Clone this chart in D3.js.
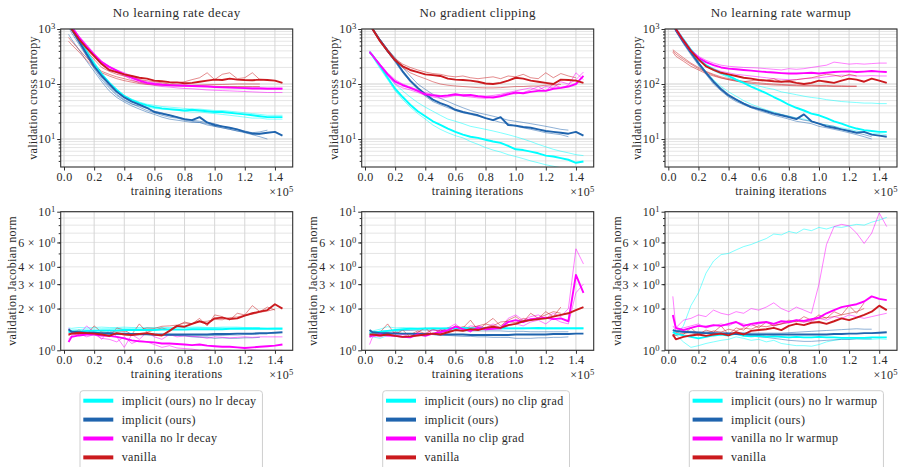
<!DOCTYPE html>
<html><head><meta charset="utf-8">
<script src="https://cdn.jsdelivr.net/npm/d3@7"></script>
<style>
body{margin:0;background:#fff;}
</style></head><body>
<svg id="c" width="898" height="467"></svg>
<script>
// ---------------- DATA ----------------
const X = [0.03,0.05,0.10,0.15,0.20,0.25,0.30,0.35,0.40,0.45,0.50,0.55,0.60,0.65,0.70,0.75,0.80,0.85,0.90,0.95,1.00,1.05,1.10,1.15,1.20,1.25,1.30,1.35,1.40,1.45];
const xTicks = [0.0,0.2,0.4,0.6,0.8,1.0,1.2,1.4];
const ceTicks = [10,100,1000];
const ceTickText = [["10","1"],["10","2"],["10","3"]];
const jacTicks = [1,2,3,4,6,10];
const jacTickText = [["10","0"],["2 × 10","0"],["3 × 10","0"],["4 × 10","0"],["6 × 10","0"],["10","1"]];
const titles = ["No learning rate decay","No gradient clipping","No learning rate warmup"];
const legendLabels = [
  ["implicit (ours) no lr decay","implicit (ours)","vanilla no lr decay","vanilla"],
  ["implicit (ours) no clip grad","implicit (ours)","vanilla no clip grad","vanilla"],
  ["implicit (ours) no lr warmup","implicit (ours)","vanilla no lr warmup","vanilla"]
];

// --- cross entropy, no lr decay ---
const ceDecay_implicitVariant = [1500,1100,640,380,230,150,105,78,60,51,45,41,38,36,35,34,33,34,33,32,31,31,30,29,28,27,26,25,25,25];
const ceDecay_implicitVariantRuns = [
  [1400,1100,680,400,240,155,110,80,62,53,47,43,41,39,38,37,36,35,35,34,33,33,32,31,30,29,28,27,27,27],
  [1500,1150,700,420,250,160,108,76,58,48,42,38,36,35,34,33,32,31,31,30,29,28,27,26,25,24,24,23,23,23]];
const ceDecay_implicit = [1300,1000,600,350,210,140,100,72,57,48,42,37,31,29,27,25,23,22,25,20,18,17,16,15,13.5,12.5,12.5,13,13.5,11.5];
const ceDecay_implicitRuns = [
  [800,650,420,260,170,110,75,57,47,40,35,31,28,25,23,22,21,20,20,19,17,16,15,14,13,12,11,10],
  [1100,850,520,320,200,130,90,65,52,44,38,33,30,27,25,24,22,21,20,18,17,16,15,14,13.5,13,13.5,14.5],
  [1200,950,560,330,190,120,85,62,50,43,40,36,32,30,27,25,23,22,21,20,19,17,16,15,14,13,12]];
const ceDecay_vanillaVariant = [1500,1100,700,480,340,250,205,175,150,130,115,105,100,97,95,94,93,92,91,90,88,87,86,85,84,83,83,82,82,82];
const ceDecay_vanillaVariantRuns = [
  [1500,1100,720,500,350,250,190,160,140,120,105,100,95,90,88,85,83,82,80,78,77,76,75,74,73,72,71,70,70,70],
  [1500,1150,740,520,360,260,210,180,160,140,120,110,105,100,98,96,95,94,93,92,90,89,88,87,86,85,85,84,84,84]];
const ceDecay_vanilla = [1400,1000,650,450,320,230,180,165,150,140,130,125,115,112,108,107,103,105,110,115,120,118,125,120,118,117,120,118,115,105];
const ceDecay_vanillaRuns = [
  [1300,950,600,400,280,200,170,150,140,130,120,115,110,105,100,105,110,120,130,160,120,150,160,125,130,160,120],
  [600,520,380,270,200,160,140,125,115,108,102,98,96,95,94,93,92,92,92,91,91,90,90,90,90,90,90],
  [700,600,420,300,220,170,150,135,125,115,108,103,100,98,97,96,95,95,96,97,98,98,99,100,100,100,100]];

// --- cross entropy, no gradient clipping ---
const ceClip_implicitVariant = [380,330,210,130,82,58,42,32,26,21,18,15.5,13.5,12,11,10.5,9.7,9,8.5,7.5,6.5,6.3,5.9,5.5,5,4.8,4.5,4.2,3.7,3.9];
const ceClip_implicitVariantRuns = [
  [400,340,230,150,100,75,58,46,38,32,27,23,21,19,17,16,15,14,13,12,11,10,9,8,7.2,6.5,6,5.6,5.2,5],
  [380,310,190,120,75,52,38,29,23,18,15,13,11.5,10.5,9,8,7,6.3,5.8,5.2,4.8,4.4,4,3.7,3.4,3.2,3.0]];
const ceClip_implicit = [1400,1000,620,400,270,170,115,85,65,52,45,40,34,31,29,27,24,22,25,18,17.5,16.5,16,15,14,13.5,13,12.5,13.5,11.5];
const ceClip_implicitRuns = [
  [1300,1000,650,430,300,200,140,100,80,65,55,48,42,37,33,30,28,26,24,22,21,20,19,18,17,16,15,14.5],
  [1350,1000,600,380,250,160,110,80,60,48,42,37,33,30,28,26,24,22,20,19,17,16,15,14,13,12.5,12,11]];
const ceClip_vanillaVariant = [380,330,220,150,110,95,85,75,65,62,60,62,65,62,63,60,58,57,60,65,70,68,72,75,75,82,85,90,100,140];
const ceClip_vanillaVariantRuns = [
  [400,340,230,160,120,100,88,78,70,65,62,60,63,60,58,56,55,58,62,68,66,70,78,90,75,100,85,95,160,120],
  [390,320,210,140,100,85,78,70,62,58,55,58,62,65,62,60,60,62,65,70,75,80,85,78,90,85,110,100,120,165]];
const ceClip_vanilla = [1400,1000,600,400,270,210,180,165,150,145,140,125,120,118,115,110,102,100,105,115,130,125,115,110,105,100,120,118,115,105];
const ceClip_vanillaRuns = [
  [1400,1050,650,420,290,230,200,180,165,155,150,140,135,140,130,125,130,135,125,140,135,150,130,125,160,130,155,140,130],
  [1300,950,580,380,260,200,160,140,125,110,100,95,92,90,88,86,85,85,86,88,90,90,92,92,95,96,98]];

// --- cross entropy, no lr warmup ---
const ceWarm_implicitVariant = [1400,1000,650,420,290,220,185,160,140,120,105,90,78,68,58,50,42,37,33,29,27,24,21,19,17,15.5,14.5,14,13.5,13.5];
const ceWarm_implicitVariantRuns = [
  [1400,1000,640,410,280,210,175,150,130,115,105,100,92,85,80,72,68,64,60,57,55,52,50,48,47,46,45,45,44,44],
  [1300,950,600,380,250,170,120,90,72,60,50,43,38,34,31,28,26,24,23,21,19,18,17,16,15,14,13,12.5,12.5,12]];
const ceWarm_implicit = [1300,950,580,370,240,160,110,80,62,52,44,38,35,32,29,27,25,23,28,21,19,17,16,15,14,13,13.5,12,11.5,11];
const ceWarm_implicitRuns = [
  [1200,900,540,340,220,150,100,75,58,48,42,37,33,30,27,25,23,21,20,19,17,16,15,14,13,12,11,10],
  [1300,950,600,380,250,165,115,85,65,53,45,40,36,33,30,28,26,24,22,21,19,18,17,15,14,13,12,11]];
const ceWarm_vanillaVariant = [1400,1000,620,400,300,250,220,200,190,185,180,175,170,165,162,158,155,155,158,160,155,160,165,168,170,165,168,172,168,165];
const ceWarm_vanillaVariantRuns = [
  [1500,1050,650,430,320,270,240,220,210,205,200,198,195,190,185,180,190,185,190,200,210,220,250,240,230,235,230,235,240,240],
  [1400,1000,620,400,280,220,190,170,160,150,145,140,135,130,125,122,120,120,125,128,130,135,140,145,142,140,140,142,140,140]];
const ceWarm_vanilla = [1400,1000,620,400,280,210,180,160,150,140,130,125,118,115,112,110,112,105,100,105,115,110,105,115,125,120,110,125,115,105];
const ceWarm_vanillaRuns = [
  [420,380,300,240,200,170,150,135,125,118,112,108,105,102,100,98,97,96,95,95,94,94,93,93,92,92],
  [400,350,280,230,190,165,145,130,120,112,107,103,100,98,96,95,94,93,92,92,91,91,90,90,90,90],
  [380,320,260,210,180,155,140,128,120,115,110,115,120,118,125,110,115,120,125,130,140,150,145,135,150,140]];

// --- Jacobian norm, no lr decay ---
const jacDecay_implicitVariant = [1.36,1.37,1.37,1.38,1.38,1.39,1.39,1.39,1.40,1.40,1.40,1.40,1.40,1.41,1.41,1.41,1.41,1.42,1.42,1.42,1.42,1.42,1.43,1.43,1.43,1.43,1.43,1.43,1.43,1.43];
const jacDecay_implicitVariantRuns = [
  [1.45,1.44,1.46,1.45,1.46,1.47,1.46,1.46,1.47,1.46,1.45,1.45,1.45,1.45,1.46,1.46,1.46,1.47,1.47,1.46,1.46,1.47,1.47,1.47,1.46,1.46,1.46],
  [1.38,1.40,1.41,1.42,1.42,1.43,1.43,1.44,1.44,1.44,1.45,1.45,1.45,1.45,1.44,1.45,1.45,1.45,1.46,1.45,1.45,1.45,1.44,1.45,1.45,1.45,1.45,1.44,1.45,1.45]];
const jacDecay_implicit = [1.42,1.36,1.35,1.34,1.34,1.33,1.33,1.32,1.32,1.31,1.31,1.31,1.30,1.30,1.30,1.30,1.30,1.30,1.30,1.30,1.31,1.31,1.31,1.32,1.32,1.32,1.33,1.33,1.34,1.35];
const jacDecay_implicitRuns = [
  [1.40,1.38,1.36,1.35,1.33,1.32,1.30,1.30,1.30,1.29,1.30,1.30,1.29,1.29,1.28,1.28,1.27,1.25,1.24,1.24,1.22,1.23,1.22,1.22,1.23,1.23,1.24],
  [1.35,1.33,1.32,1.32,1.31,1.31,1.30,1.30,1.30,1.30,1.29,1.29,1.29,1.28,1.28,1.28,1.28,1.27,1.27,1.27,1.28,1.28,1.29,1.29,1.30,1.30,1.31,1.31]];
const jacDecay_vanillaVariant = [1.15,1.25,1.28,1.30,1.30,1.28,1.27,1.25,1.22,1.18,1.16,1.15,1.14,1.12,1.12,1.11,1.10,1.09,1.10,1.08,1.07,1.06,1.06,1.05,1.04,1.05,1.06,1.07,1.08,1.10];
const jacDecay_vanillaVariantRuns = [
  [1.45,1.35,1.30,1.50,1.35,1.20,1.40,1.25,1.05,1.30,1.20,1.35,1.25,1.20,1.30,1.25,1.27,1.26,1.25,1.22,1.25,1.24,1.23,1.24,1.25,1.24,1.25,1.25,1.25,1.25],
  [1.20,1.28,1.32,1.25,1.30,1.22,1.20,1.15,1.25,1.12,1.18,1.15,1.10,1.05,1.08,1.04,1.03,1.02,1.00,1.01,0.99,1.00,1.00,0.99,1.00,1.01,1.00,1.00,1.00,1.00]];
const jacDecay_vanilla = [1.30,1.32,1.34,1.33,1.32,1.30,1.27,1.33,1.30,1.29,1.31,1.33,1.30,1.28,1.38,1.50,1.48,1.55,1.62,1.55,1.70,1.72,1.68,1.70,1.78,1.85,1.90,1.95,2.15,2.00];
const jacDecay_vanillaRuns = [
  [1.30,1.35,1.40,1.30,1.50,1.35,1.25,1.45,1.40,1.30,1.55,1.35,1.40,1.45,1.40,1.50,1.60,1.55,1.70,1.50,1.80,1.75,1.65,1.85,1.80,2.10,1.90,2.05,1.95],
  [1.28,1.31,1.30,1.33,1.32,1.36,1.34,1.38,1.37,1.41,1.40,1.45,1.44,1.49,1.50,1.52,1.57,1.56,1.61,1.62,1.67,1.66,1.72,1.74,1.79,1.82,1.88,1.92,1.98]];

// --- Jacobian norm, no gradient clipping ---
const jacClip_implicitVariant = [1.32,1.34,1.36,1.38,1.40,1.42,1.43,1.43,1.44,1.44,1.44,1.44,1.44,1.45,1.44,1.44,1.44,1.44,1.45,1.44,1.44,1.44,1.44,1.45,1.44,1.44,1.44,1.44,1.44,1.44];
const jacClip_implicitVariantRuns = [
  [1.35,1.38,1.42,1.48,1.45,1.46,1.45,1.44,1.44,1.45,1.44,1.45,1.46,1.45,1.45,1.45,1.46,1.46,1.45,1.45,1.45,1.45,1.46,1.46,1.46,1.46,1.46,1.46,1.46,1.46],
  [1.30,1.25,1.22,1.28,1.35,1.40,1.42,1.43,1.42,1.43,1.43,1.43,1.42,1.43,1.43,1.43,1.44,1.43,1.43,1.43,1.43,1.43,1.44,1.43,1.43,1.43,1.43,1.43,1.43,1.43]];
const jacClip_implicit = [1.40,1.35,1.33,1.33,1.32,1.32,1.32,1.31,1.31,1.31,1.30,1.30,1.30,1.30,1.29,1.29,1.29,1.29,1.29,1.29,1.30,1.30,1.30,1.30,1.30,1.31,1.31,1.31,1.32,1.32];
const jacClip_implicitRuns = [
  [1.38,1.36,1.35,1.34,1.33,1.32,1.32,1.31,1.31,1.30,1.29,1.28,1.27,1.26,1.26,1.25,1.25,1.24,1.24,1.24,1.22,1.22,1.22,1.23,1.23,1.24,1.24,1.25],
  [1.35,1.36,1.37,1.38,1.38,1.39,1.39,1.40,1.40,1.40,1.40,1.39,1.39,1.38,1.38,1.38,1.38,1.38,1.38,1.37,1.37,1.37,1.36,1.36,1.36,1.36,1.36,1.36]];
const jacClip_vanillaVariant = [1.25,1.28,1.30,1.28,1.27,1.25,1.24,1.30,1.27,1.32,1.35,1.40,1.48,1.42,1.38,1.45,1.42,1.43,1.45,1.60,1.65,1.60,1.68,1.70,1.72,1.68,1.70,1.62,3.50,2.60];
const jacClip_vanillaVariantRuns = [
  [1.10,1.25,1.30,1.35,1.28,1.30,1.25,1.35,1.30,1.40,1.38,1.45,1.55,1.40,1.50,1.48,1.45,1.55,1.45,1.70,1.80,1.65,1.75,1.80,1.70,1.85,1.75,2.00,5.40,4.20],
  [1.30,1.28,1.25,1.30,1.35,1.30,1.32,1.28,1.33,1.30,1.42,1.35,1.40,1.45,1.35,1.50,1.45,1.45,1.42,1.50,1.55,1.50,1.60,1.65,1.55,1.70,1.60,1.55,2.60,3.00]];
const jacClip_vanilla = [1.30,1.30,1.28,1.30,1.27,1.25,1.26,1.28,1.30,1.32,1.30,1.35,1.40,1.38,1.42,1.40,1.45,1.48,1.45,1.52,1.55,1.62,1.65,1.68,1.70,1.75,1.80,1.85,1.95,2.05];
const jacClip_vanillaRuns = [
  [1.25,1.30,1.35,1.55,1.30,1.40,1.25,1.35,1.45,1.30,1.40,1.35,1.50,1.45,1.65,1.40,1.55,1.70,1.50,1.65,1.75,1.60,1.85,1.70,1.90,1.75,2.05],
  [1.28,1.32,1.30,1.28,1.35,1.32,1.30,1.38,1.32,1.42,1.36,1.45,1.42,1.48,1.45,1.50,1.55,1.50,1.60,1.62,1.58,1.70,1.65,1.72,1.80,1.90,1.85]];

// --- Jacobian norm, no lr warmup ---
const jacWarm_implicitVariant = [1.35,1.32,1.28,1.25,1.22,1.25,1.28,1.30,1.28,1.32,1.27,1.26,1.27,1.25,1.26,1.25,1.24,1.25,1.24,1.24,1.25,1.24,1.24,1.23,1.23,1.23,1.23,1.24,1.24,1.24];
const jacWarm_implicitVariantRuns = [
  [1.30,1.28,1.50,2.10,2.60,3.60,4.40,4.90,5.00,5.30,5.60,5.80,6.10,6.40,6.90,6.80,7.20,7.00,7.50,7.30,7.70,7.50,7.80,7.70,7.90,8.10,8.00,8.40,8.70,9.10],
  [1.35,1.30,1.15,1.05,1.08,1.12,1.15,1.18,1.20,1.25,1.22,1.18,1.20,1.15,1.18,1.12,1.10,1.08,1.08,1.07,1.10,1.15,1.18,1.20,1.20,1.21,1.20,1.20,1.21,1.20]];
const jacWarm_implicit = [1.40,1.38,1.36,1.35,1.34,1.33,1.33,1.32,1.32,1.31,1.31,1.30,1.30,1.30,1.30,1.30,1.30,1.30,1.30,1.30,1.30,1.30,1.31,1.31,1.32,1.32,1.33,1.33,1.34,1.35];
const jacWarm_implicitRuns = [
  [1.40,1.38,1.38,1.37,1.36,1.36,1.35,1.35,1.34,1.34,1.34,1.33,1.33,1.33,1.33,1.33,1.34,1.35,1.36,1.37,1.38,1.39,1.40,1.41,1.42,1.43,1.42,1.42],
  [1.38,1.36,1.35,1.35,1.34,1.33,1.32,1.32,1.31,1.30,1.28,1.27,1.25,1.24,1.22,1.20,1.18,1.17,1.16,1.16,1.17,1.18,1.19,1.20,1.20,1.21,1.21,1.21]];
const jacWarm_vanillaVariant = [1.80,1.45,1.40,1.45,1.50,1.48,1.52,1.50,1.55,1.60,1.50,1.55,1.58,1.60,1.55,1.62,1.60,1.65,1.63,1.68,1.72,1.85,1.95,2.05,2.10,2.15,2.25,2.45,2.35,2.30];
const jacWarm_vanillaVariantRuns = [
  [2.45,1.45,1.65,1.70,1.80,1.75,1.95,1.85,1.80,1.90,1.85,2.00,1.95,2.05,2.20,2.00,1.90,2.05,1.95,1.85,3.00,5.80,7.80,8.10,7.90,7.00,5.90,7.00,9.80,7.80],
  [1.50,1.40,1.45,1.50,1.55,1.45,1.50,1.55,1.50,1.60,1.55,1.50,1.55,1.60,1.50,1.55,1.60,1.65,1.60,1.62,1.70,1.65,1.75,1.70,1.80,1.75,1.70,1.75,1.80,1.85]];
const jacWarm_vanilla = [1.30,1.20,1.25,1.28,1.30,1.27,1.30,1.32,1.28,1.35,1.30,1.38,1.40,1.42,1.45,1.40,1.50,1.55,1.52,1.58,1.60,1.55,1.62,1.70,1.65,1.72,1.80,1.90,2.10,1.95];
const jacWarm_vanillaRuns = [
  [1.25,1.35,1.30,1.45,1.30,1.40,1.35,1.50,1.30,1.45,1.40,1.55,1.45,1.60,1.50,1.55,1.65,1.60,1.75,1.65,1.80,1.70,1.90,1.80,2.10,1.85,2.20],
  [1.30,1.28,1.32,1.35,1.30,1.32,1.38,1.35,1.42,1.38,1.45,1.42,1.50,1.48,1.52,1.55,1.58,1.62,1.60,1.65,1.70,1.72,1.75,1.80,1.85,1.90,2.00]];

// ---------------- STYLE / LAYOUT ----------------
const FONT = "'Liberation Serif', 'DejaVu Serif', serif";
const COLORS = ["#00ffff","#1f64ae","#ff00ff","#cb1a1e"];
const W = 232;
const LEFTS = [60.7, 361.7, 665];
const ROWS = [{top:29, h:138}, {top:211.7, h:138.6}];
const X_DOMAIN = [-0.022, 1.518];
const LEGEND_LEFT = [80, 382.7, 689.3];
const LEGEND_TOP = 390.7;

const panels = [
  {col:0,row:0,series:[[ceDecay_implicitVariant,ceDecay_implicitVariantRuns],[ceDecay_implicit,ceDecay_implicitRuns],[ceDecay_vanillaVariant,ceDecay_vanillaVariantRuns],[ceDecay_vanilla,ceDecay_vanillaRuns]]},
  {col:1,row:0,series:[[ceClip_implicitVariant,ceClip_implicitVariantRuns],[ceClip_implicit,ceClip_implicitRuns],[ceClip_vanillaVariant,ceClip_vanillaVariantRuns],[ceClip_vanilla,ceClip_vanillaRuns]]},
  {col:2,row:0,series:[[ceWarm_implicitVariant,ceWarm_implicitVariantRuns],[ceWarm_implicit,ceWarm_implicitRuns],[ceWarm_vanillaVariant,ceWarm_vanillaVariantRuns],[ceWarm_vanilla,ceWarm_vanillaRuns]]},
  {col:0,row:1,series:[[jacDecay_implicitVariant,jacDecay_implicitVariantRuns],[jacDecay_implicit,jacDecay_implicitRuns],[jacDecay_vanillaVariant,jacDecay_vanillaVariantRuns],[jacDecay_vanilla,jacDecay_vanillaRuns]]},
  {col:1,row:1,series:[[jacClip_implicitVariant,jacClip_implicitVariantRuns],[jacClip_implicit,jacClip_implicitRuns],[jacClip_vanillaVariant,jacClip_vanillaVariantRuns],[jacClip_vanilla,jacClip_vanillaRuns]]},
  {col:2,row:1,series:[[jacWarm_implicitVariant,jacWarm_implicitVariantRuns],[jacWarm_implicit,jacWarm_implicitRuns],[jacWarm_vanillaVariant,jacWarm_vanillaVariantRuns],[jacWarm_vanilla,jacWarm_vanillaRuns]]}
];

const svg = d3.select("#c");
svg.append("rect").attr("width",898).attr("height",467).attr("fill","#fff");

function styleText(sel, size, ls){
  return sel.style("font-family", FONT).style("font-size", size + "px")
    .style("letter-spacing", (ls == null ? 0.35 : ls) + "px").style("fill", "#2a2a2a");
}
function sup(sel, base, exp){
  sel.text(null);
  sel.append("tspan").text(base);
  sel.append("tspan").attr("dy","-0.45em").style("font-size","0.72em").text(exp);
}

panels.forEach((p, pi) => {
  const left = LEFTS[p.col], R = ROWS[p.row], H = R.h;
  const g = svg.append("g").attr("transform", `translate(${left},${R.top})`);
  const x = d3.scaleLinear().domain(X_DOMAIN).range([0, W]);
  const isCE = p.row === 0;
  const y = d3.scaleLog().domain(isCE ? [3.1, 1000] : [1, 10]).range([H, 0]);
  const majors = isCE ? ceTicks : jacTicks;
  const majorText = isCE ? ceTickText : jacTickText;
  const minors = [];
  const decades = isCE ? [1, 10, 100] : [1];
  decades.forEach(d => { for (let m = 2; m <= 9; m++) { const v = m * d; if (v >= y.domain()[0] && v <= y.domain()[1]) minors.push(v); } });

  // grid
  const grid = g.append("g");
  grid.selectAll("line.hm").data(minors).join("line")
    .attr("x1",0).attr("x2",W).attr("y1",d=>y(d)).attr("y2",d=>y(d))
    .attr("stroke","#e2e2e2").attr("stroke-width",0.9);
  grid.selectAll("line.hM").data(isCE ? ceTicks : [1,10]).join("line")
    .attr("x1",0).attr("x2",W).attr("y1",d=>y(d)).attr("y2",d=>y(d))
    .attr("stroke","#d0d0d0").attr("stroke-width",1);
  grid.selectAll("line.v").data(xTicks).join("line")
    .attr("x1",d=>x(d)).attr("x2",d=>x(d)).attr("y1",0).attr("y2",H)
    .attr("stroke","#d6d6d6").attr("stroke-width",1);

  // clip
  const cid = "clip" + pi;
  g.append("clipPath").attr("id", cid).append("rect").attr("width", W).attr("height", H);
  const lg = g.append("g").attr("clip-path", `url(#${cid})`);
  const line = d3.line().x((d,i)=>x(X[i])).y(d=>y(Math.max(d,0.5)));

  p.series.forEach((s, si) => {
    s[1].forEach(run => {
      lg.append("path").attr("d", line(run)).attr("fill","none")
        .attr("stroke", COLORS[si]).attr("stroke-opacity",0.5).attr("stroke-width",1);
    });
  });
  p.series.forEach((s, si) => {
    lg.append("path").attr("d", line(s[0])).attr("fill","none")
      .attr("stroke", COLORS[si]).attr("stroke-width",1.9).attr("stroke-linejoin","round");
  });

  // frame
  g.append("rect").attr("width",W).attr("height",H).attr("fill","none").attr("stroke","#2f2f2f").attr("stroke-width",1.1);

  // x axis
  const xa = g.append("g").attr("transform",`translate(0,${H})`)
    .call(d3.axisBottom(x).tickValues(xTicks).tickSize(3.5).tickPadding(2).tickFormat(d3.format(".1f")));
  xa.attr("font-family", null).attr("font-size", null);
  xa.select(".domain").remove();
  xa.selectAll("line").attr("stroke","#2f2f2f");
  styleText(xa.selectAll("text"), 12);

  // y axis minor
  const ym = g.append("g").call(d3.axisLeft(y).tickValues(minors).tickSize(2).tickFormat(""));
  ym.select(".domain").remove();
  ym.selectAll("line").attr("stroke","#2f2f2f");
  // y axis major
  const ya = g.append("g").call(d3.axisLeft(y).tickValues(majors).tickSize(3.5).tickPadding(1.5));
  ya.attr("font-family", null).attr("font-size", null);
  ya.select(".domain").remove();
  ya.selectAll("line").attr("stroke","#2f2f2f");
  styleText(ya.selectAll("text"), 12)
    .each(function(d,i){ sup(d3.select(this), majorText[i][0], majorText[i][1]); });

  // labels
  styleText(g.append("text").attr("x",W/2).attr("y",H+28.2).attr("text-anchor","middle"), 12).text("training iterations");
  const mult = styleText(g.append("text").attr("x",W+1).attr("y",H+28.5).attr("text-anchor","end"), 12);
  sup(mult, "×10", "5");
  const ylab = isCE ? "validation cross entropy" : "validation Jacobian norm";
  const yx = isCE ? -24 : -44.5;
  styleText(g.append("text").attr("transform",`translate(${yx},${H/2}) rotate(-90)`).attr("text-anchor","middle"), 12).text(ylab);
  if (isCE) {
    styleText(g.append("text").attr("x",W/2).attr("y",-12).attr("text-anchor","middle"), 13, 0.45).text(titles[p.col]);
  }
});

// legends
legendLabels.forEach((labels, li) => {
  const lx = LEGEND_LEFT[li];
  const lgG = svg.append("g").attr("transform",`translate(${lx},${LEGEND_TOP})`);
  const box = lgG.append("rect").attr("rx",3).attr("ry",3).attr("fill","#fff").attr("stroke","#cfcfcf").attr("stroke-width",1);
  let maxW = 0;
  labels.forEach((lab, i) => {
    const yy = 10 + i * 18.9;
    lgG.append("line").attr("x1",3.3).attr("x2",33.3).attr("y1",yy).attr("y2",yy)
      .attr("stroke",COLORS[i]).attr("stroke-width",4);
    const t = styleText(lgG.append("text").attr("x",41.7).attr("y",yy+4), 12).text(lab);
    maxW = Math.max(maxW, t.node().getComputedTextLength());
  });
  box.attr("x",0).attr("y",0).attr("width",41.7+maxW+6).attr("height",100);
});
</script>
</body></html>
